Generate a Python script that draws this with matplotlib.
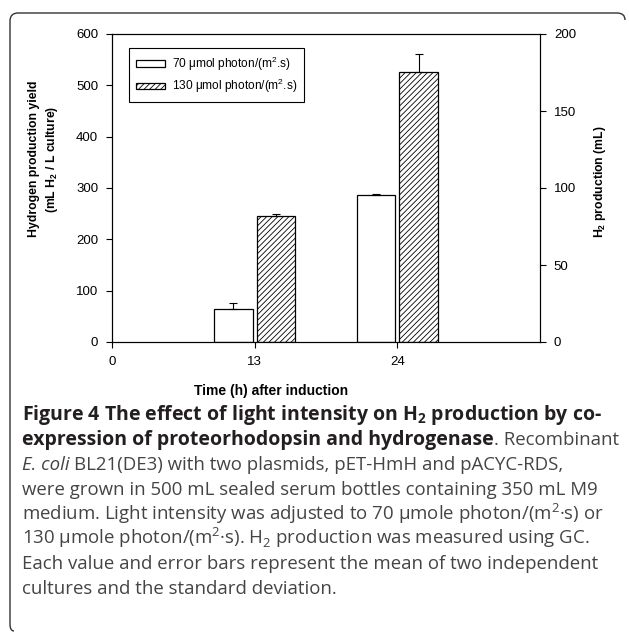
import matplotlib
matplotlib.use('Agg')
import matplotlib.pyplot as plt
from matplotlib.path import Path
from matplotlib.patches import PathPatch
import numpy as np

# data
time_labels = ['0', '13', '24']
bar_times = ['13', '24']
yield_70 = [65, 287]
err_70 = [11, 2]
yield_130 = [245, 526]
err_130 = [4, 36]
series_labels = ['70 \u03bcmol photon/(m$^\\mathregular{2}$.s)',
                 '130 \u03bcmol photon/(m$^\\mathregular{2}$.s)']

W, H = 629, 632
plt.rcParams['font.family'] = ['Liberation Sans', 'DejaVu Sans']
plt.rcParams['hatch.linewidth'] = 0.6

fig = plt.figure(figsize=(W / 100, H / 100), dpi=100)


def fx(x):
    return x / W


def fy(y):
    return 1 - y / H


ax = fig.add_axes([fx(112), fy(342), fx(540) - fx(112), fy(34) - fy(342)])

pos = np.array([time_labels.index(t) for t in bar_times])
bw = 0.27
off = 0.15
ax.bar(pos - off, yield_70, bw, color='white', edgecolor='black', lw=0.9,
       label=series_labels[0], zorder=2)
ax.bar(pos + off, yield_130, bw, color='white', edgecolor='black', lw=0.9,
       hatch='//////', label=series_labels[1], zorder=2)
ax.errorbar(pos - off, yield_70, yerr=[np.zeros(len(err_70)), err_70], fmt='none',
            ecolor='black', elinewidth=0.8, capsize=3, capthick=0.8, zorder=3)
ax.errorbar(pos + off, yield_130, yerr=[np.zeros(len(err_130)), err_130], fmt='none',
            ecolor='black', elinewidth=0.8, capsize=3, capthick=0.8, zorder=3)

ax.set_xlim(0, 3)
ax.set_ylim(0, 600)
ax.set_xticks(range(len(time_labels)))
ax.set_xticklabels(time_labels)
ax.set_yticks(range(0, 601, 100))
ax.tick_params(direction='out', length=4, width=0.8, labelsize=9.5, pad=6)
for s in ax.spines.values():
    s.set_linewidth(0.8)

ax2 = ax.twinx()
ax2.set_ylim(0, 200)
ax2.set_yticks(range(0, 201, 50))
ax2.tick_params(direction='out', length=4, width=0.8, labelsize=9.5, pad=6)

leg = ax.legend(loc='upper left', bbox_to_anchor=(fx(129), fy(48)),
                bbox_transform=fig.transFigure, borderaxespad=0, fontsize=8.6,
                frameon=True, fancybox=False, edgecolor='black', framealpha=1,
                handlelength=2.5, handleheight=0.45, handletextpad=0.55,
                labelspacing=0.35, borderpad=0.55)
leg.get_frame().set_linewidth(0.8)

fig.text(fx(44), fy(159),
         'Hydrogen production yield\n(mL H$_\\mathregular{2}$ / L culture)',
         rotation=90, ha='center', va='center', fontsize=8.8,
         fontweight='bold', linespacing=1.45)
fig.text(fx(600), fy(182), 'H$_\\mathregular{2}$ production (mL)', rotation=90,
         ha='center', va='center', fontsize=8.8, fontweight='bold')
fig.text(fx(271), fy(391), 'Time (h) after induction', ha='center', va='center',
         fontsize=10, fontweight='bold')

# caption
cap_font = ['Open Sans', 'DejaVu Sans']
dark = '#231f20'
grey = '#444444'
size_bold = 14.0
size_reg = 13.4
lines = [
    [('Figure 4 The effect of light intensity on H$_\\mathregular{2}$ production by co-', 'bold', 'normal', dark, 0)],
    [('expression of proteorhodopsin and hydrogenase', 'bold', 'normal', dark, 0),
     ('. Recombinant', 'normal', 'normal', grey, 0)],
    [('E. coli', 'normal', 'italic', grey, 0),
     ('BL21(DE3) with two plasmids, pET-HmH and pACYC-RDS,', 'normal', 'normal', grey, 4.5)],
    [('were grown in 500 mL sealed serum bottles containing 350 mL M9', 'normal', 'normal', grey, 0)],
    [('medium. Light intensity was adjusted to 70 \u00b5mole photon/(m$^\\mathregular{2}$\u00b7s) or', 'normal', 'normal', grey, 0)],
    [('130 \u00b5mole photon/(m$^\\mathregular{2}$\u00b7s). H$_\\mathregular{2}$ production was measured using GC.', 'normal', 'normal', grey, 0)],
    [('Each value and error bars represent the mean of two independent', 'normal', 'normal', grey, 0)],
    [('cultures and the standard deviation.', 'normal', 'normal', grey, 0)],
]
renderer = fig.canvas.get_renderer()
y0 = 420
for i, segs in enumerate(lines):
    x = 22
    for text, weight, style, color, gap in segs:
        x += gap
        size = size_bold if weight == 'bold' else size_reg
        t = fig.text(fx(x), fy(y0 + i * 24.9), text, family=cap_font,
                     fontsize=size, fontweight=weight, fontstyle=style,
                     color=color, ha='left', va='baseline')
        x += t.get_window_extent(renderer).width

# frame around the figure (top and left edges only)
verts = [(625, 20), (625, 13), (617, 13), (18, 13), (10, 13), (10, 21),
         (10, 624), (10, 631), (14, 631)]
codes = [Path.MOVETO, Path.CURVE3, Path.CURVE3, Path.LINETO, Path.CURVE3,
         Path.CURVE3, Path.LINETO, Path.CURVE3, Path.CURVE3]
frame = PathPatch(Path([(fx(a), fy(b)) for a, b in verts], codes),
                  transform=fig.transFigure, fill=False, edgecolor='#333333',
                  lw=1.0)
fig.patches.append(frame)

fig.savefig('out.png', dpi=100)
